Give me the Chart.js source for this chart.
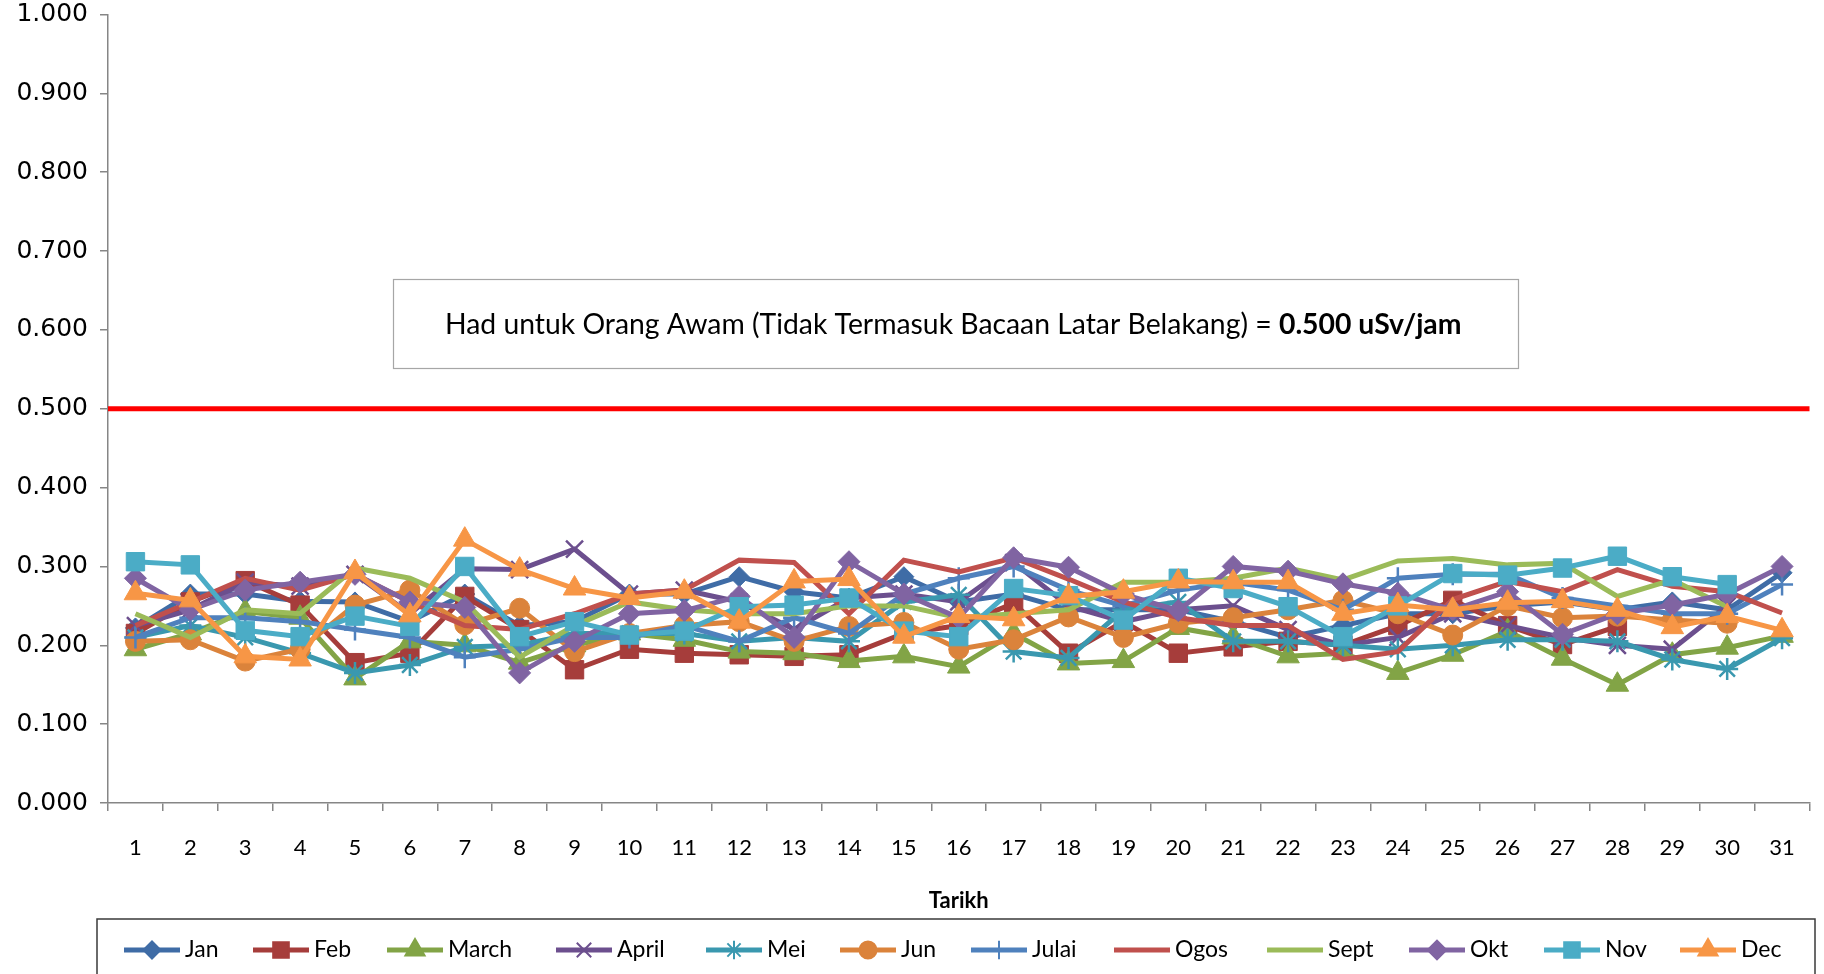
<!DOCTYPE html>
<html>
<head>
<meta charset="utf-8">
<script src="https://cdn.jsdelivr.net/npm/chart.js@4.4.0/dist/chart.umd.min.js"></script>
<style>
  html, body { margin: 0; padding: 0; background: #ffffff; }
  #wrap { width: 1824px; height: 974px; position: relative; }
</style>
</head>
<body>
<div id="wrap"><canvas id="chart" width="1824" height="974"></canvas></div>
<script>
// Bacaan dos harian (uSv/jam) ikut bulan
const days = ['1','2','3','4','5','6','7','8','9','10','11','12','13','14','15','16',
  '17','18','19','20','21','22','23','24','25','26','27','28','29','30','31'];

const jan   = [0.222,0.265,0.265,0.256,0.255,0.230,0.265,0.225,0.230,0.265,0.265,0.287,0.268,0.260,0.287,0.255,
               0.265,0.245,0.245,0.245,0.230,0.210,0.225,0.240,0.240,0.250,0.255,0.245,0.255,0.245,0.292];
const feb   = [0.215,0.255,0.282,0.251,0.178,0.190,0.262,0.220,0.169,0.195,0.190,0.188,0.186,0.188,0.215,0.225,
               0.253,0.190,0.230,0.190,0.198,0.205,0.200,0.225,0.257,0.225,0.201,0.224];
const march = [0.195,0.215,0.243,0.235,0.158,0.205,0.200,0.178,0.200,0.215,0.207,0.192,0.190,0.180,0.186,0.173,
               0.215,0.177,0.180,0.222,0.210,0.186,0.190,0.165,0.188,0.218,0.183,0.150,0.188,0.197,0.212];
const april = [0.225,0.245,0.280,0.275,0.290,0.240,0.297,0.296,0.322,0.265,0.270,0.255,0.220,0.260,0.265,0.255,
               0.305,0.250,0.230,0.245,0.250,0.220,0.200,0.210,0.240,0.225,0.210,0.200,0.195,0.250];
const mei   = [0.210,0.225,0.210,0.190,0.165,0.175,0.198,0.200,0.215,0.215,0.215,0.205,0.210,0.205,0.255,0.264,
               0.192,0.184,0.245,0.255,0.205,0.205,0.200,0.195,0.200,0.207,0.207,0.205,0.182,0.170,0.209];
const jun   = [0.205,0.207,0.180,0.195,0.251,0.270,0.226,0.247,0.192,0.215,0.225,0.230,0.205,0.224,0.229,0.195,
               0.207,0.236,0.210,0.228,0.235,0.245,0.257,0.240,0.213,0.250,0.235,0.237,0.232,0.228];
const julai = [0.210,0.235,0.235,0.230,0.220,0.210,0.185,0.195,0.210,0.210,0.225,0.205,0.235,0.215,0.265,0.285,
               0.300,0.270,0.250,0.270,0.280,0.270,0.245,0.285,0.290,0.290,0.260,0.250,0.240,0.240,0.277];
const ogos  = [0.225,0.255,0.285,0.270,0.290,0.255,0.225,0.220,0.240,0.265,0.270,0.308,0.305,0.240,0.308,0.293,
               0.311,0.284,0.255,0.235,0.225,0.225,0.182,0.192,0.258,0.281,0.268,0.296,0.275,0.268,0.241];
const sept  = [0.240,0.210,0.245,0.240,0.298,0.285,0.255,0.185,0.225,0.255,0.245,0.240,0.240,0.250,0.250,0.235,
               0.240,0.245,0.280,0.280,0.285,0.298,0.283,0.307,0.310,0.302,0.304,0.262,0.283,0.249];
const okt   = [0.285,0.245,0.270,0.280,0.290,0.255,0.248,0.165,0.205,0.240,0.244,0.262,0.210,0.306,0.265,0.235,
               0.311,0.299,0.265,0.244,0.300,0.294,0.278,0.266,0.245,0.268,0.214,0.240,0.251,0.265,0.300];
const nov   = [0.306,0.302,0.219,0.211,0.237,0.224,0.300,0.211,0.230,0.213,0.218,0.249,0.251,0.260,0.218,0.211,
               0.272,0.263,0.232,0.285,0.272,0.249,0.211,0.250,0.291,0.289,0.298,0.313,0.287,0.277];
const dec   = [0.266,0.257,0.186,0.182,0.293,0.238,0.334,0.296,0.272,0.260,0.268,0.230,0.281,0.284,0.211,0.237,
               0.233,0.262,0.268,0.281,0.280,0.280,0.240,0.251,0.245,0.254,0.256,0.245,0.223,0.237,0.219];

const seriesNames  = ['Jan','Feb','March','April','Mei','Jun','Julai','Ogos','Sept','Okt','Nov','Dec'];
const seriesData   = [jan, feb, march, april, mei, jun, julai, ogos, sept, okt, nov, dec];
const seriesColors = ['#3F6CA6','#A63D3B','#82A446','#6C4F8E','#3A98AF','#DB833B',
                      '#4F81BD','#C0504D','#9BBB59','#8064A2','#4BACC6','#F79646'];
const seriesMarks  = ['rectRot','rect','triangle','crossRot','star','circle',
                      'cross', false, false,'rectRot','rect','triangle'];
const markRadius   = [10, 13, 13, 12, 11, 10, 11, 0, 0, 11, 13, 13];

const limitValue = 0.5;
const limitLabel = 'Had untuk Orang Awam (Tidak Termasuk Bacaan Latar Belakang) = ';
const limitUnit  = '0.500 uSv/jam';
const xTitle = 'Tarikh';

// garis had merah + kotak keterangan
const limitPlugin = {
  id: 'limitLine',
  afterDatasetsDraw(chart) {
    const { ctx, chartArea, scales } = chart;
    const y = scales.y.getPixelForValue(limitValue);
    ctx.save();
    ctx.strokeStyle = '#FF0000';
    ctx.lineWidth = 5;
    ctx.beginPath();
    ctx.moveTo(chartArea.left, y);
    ctx.lineTo(chartArea.right, y);
    ctx.stroke();

    // kotak teks
    const bx = 393, by = 279, bw = 1125, bh = 89;
    ctx.fillStyle = '#ffffff';
    ctx.fillRect(bx, by, bw, bh);
    ctx.strokeStyle = '#A6A6A6';
    ctx.lineWidth = 1.2;
    ctx.strokeRect(bx + 0.5, by + 0.5, bw, bh);

    let size = 24;
    const fit = () => {
      ctx.font = `${size}px Lato`;
      const w1 = ctx.measureText(limitLabel).width;
      ctx.font = `bold ${size}px Lato`;
      const w2 = ctx.measureText(limitUnit).width;
      return [w1, w2];
    };
    let [w1, w2] = fit();
    size = size * 1017 / (w1 + w2);
    [w1, w2] = fit();
    const tx = 445;
    const ty = by + bh / 2 + 1;
    ctx.fillStyle = '#000000';
    ctx.textBaseline = 'middle';
    ctx.textAlign = 'left';
    ctx.font = `${size}px Lato`;
    ctx.fillText(limitLabel, tx, ty);
    ctx.font = `bold ${size}px Lato`;
    ctx.fillText(limitUnit, tx + w1, ty);
    ctx.restore();
  }
};

// tajuk paksi-x dan petunjuk di bawah
const legendPlugin = {
  id: 'bottomLegend',
  afterDraw(chart) {
    const { ctx, chartArea } = chart;
    ctx.save();
    ctx.fillStyle = '#000000';
    ctx.font = 'bold 22px Lato';
    ctx.textAlign = 'center';
    ctx.textBaseline = 'middle';
    ctx.fillText(xTitle, (chartArea.left + chartArea.right) / 2, 901);

    ctx.strokeStyle = '#3A3A3A';
    ctx.lineWidth = 1.5;
    ctx.strokeRect(97, 919, 1718, 70);

    const legendX = [124, 253, 387, 556, 706, 840, 971, 1114, 1267, 1409, 1544, 1680];
    const ly = 950;
    chart.data.datasets.forEach((ds, i) => {
      const x0 = legendX[i];
      ctx.strokeStyle = ds.borderColor;
      ctx.fillStyle = ds.borderColor;
      ctx.lineWidth = 5;
      ctx.beginPath();
      ctx.moveTo(x0, ly);
      ctx.lineTo(x0 + 56, ly);
      ctx.stroke();
      if (ds.pointStyle) {
        ctx.lineWidth = 2;
        Chart.helpers.drawPoint(ctx, {
          pointStyle: ds.pointStyle, radius: ds.pointRadius * 0.85, rotation: 0, borderWidth: 2
        }, x0 + 28, ly);
      }
      ctx.fillStyle = '#000000';
      ctx.font = '23px Lato';
      ctx.textAlign = 'left';
      ctx.fillText(ds.label, x0 + 61, ly);
    });
    ctx.restore();
  }
};

const datasets = seriesNames.map((name, i) => ({
  label: name,
  data: seriesData[i],
  borderColor: seriesColors[i],
  backgroundColor: seriesColors[i],
  pointBackgroundColor: seriesColors[i],
  pointBorderColor: seriesColors[i],
  borderWidth: 5,
  pointStyle: seriesMarks[i],
  pointRadius: markRadius[i],
  pointBorderWidth: (seriesMarks[i] === 'cross' || seriesMarks[i] === 'crossRot' || seriesMarks[i] === 'star') ? 2.5 : 1,
  tension: 0,
  order: seriesNames.length - i
}));

new Chart(document.getElementById('chart').getContext('2d'), {
  type: 'line',
  data: { labels: days, datasets: datasets },
  options: {
    responsive: false,
    animation: false,
    devicePixelRatio: 1,
    layout: { padding: { top: 14, right: 2, left: 0, bottom: 0 } },
    plugins: {
      legend: { display: false },
      tooltip: { enabled: false }
    },
    scales: {
      x: {
        offset: true,
        grid: { offset: true, drawOnChartArea: false, drawTicks: true, tickLength: 8, color: '#868686', lineWidth: 1.5 },
        border: { color: '#868686', width: 1.5 },
        ticks: { color: '#000000', font: { family: 'Lato', size: 22 }, padding: 24, maxRotation: 0, autoSkip: false },
        afterFit: (scale) => { scale.height = 171; }
      },
      y: {
        min: 0,
        max: 1,
        grid: { drawOnChartArea: false, drawTicks: true, tickLength: 8, color: '#868686', lineWidth: 1.5 },
        border: { color: '#868686', width: 1.5 },
        ticks: {
          stepSize: 0.1,
          color: '#000000',
          font: { family: 'DejaVu Sans', size: 25 },
          padding: 12,
          callback: (v) => Number(v).toFixed(3)
        },
        afterFit: (scale) => {
          scale.width = 108;
          scale.paddingTop = 0;
          scale.paddingBottom = 0;
        }
      }
    }
  },
  plugins: [limitPlugin, legendPlugin]
});
</script>
</body>
</html>
